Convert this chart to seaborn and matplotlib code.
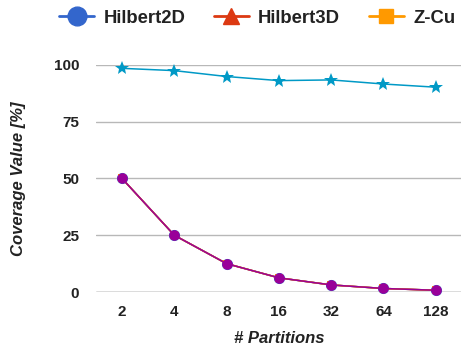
import matplotlib
matplotlib.use("Agg")
import matplotlib.pyplot as plt
from matplotlib.lines import Line2D
import seaborn as sns
import pandas as pd

partitions = ["2", "4", "8", "16", "32", "64", "128"]
hilbert2d = [50, 25, 12.5, 6.25, 3.125, 1.5625, 0.78125]
hilbert3d = [50, 25, 12.5, 6.25, 3.125, 1.5625, 0.78125]
z_curve = [50, 25, 12.5, 6.25, 3.125, 1.5625, 0.78125]
purple_series = [50, 25, 12.5, 6.25, 3.125, 1.5625, 0.78125]
star_series = [98.5, 97.5, 94.9, 93.1, 93.4, 91.6, 90.2]
legend_names = ["Hilbert2D", "Hilbert3D", "Z-Cu"]

sns.set_theme(style="white")
plt.rcParams["font.family"] = ["Liberation Sans", "DejaVu Sans"]

fig = plt.figure(figsize=(4.61, 3.51), dpi=100)
ax = fig.add_axes([0.208, 0.168, 0.794, 0.647])

series = [
    (hilbert2d, "#3366cc", "o", 8.0),
    (hilbert3d, "#dc3912", "^", 5.5),
    (z_curve, "#ff9900", "s", 5.5),
    (purple_series, "#990099", "o", 7.6),
    (star_series, "#0099c6", "*", 10.5),
]
for values, color, marker, ms in series:
    df = pd.DataFrame({"partitions": partitions, "value": values})
    sns.lineplot(data=df, x="partitions", y="value", ax=ax, sort=False,
                 color=color, marker=marker, markersize=ms,
                 markeredgewidth=0, linewidth=1.1, clip_on=False)

ax.set_xlim(-0.5, 6.5)
ax.set_ylim(0, 100)
ax.set_yticks([0, 25, 50, 75, 100])
ax.grid(axis="y", color="#b8b8b8", linewidth=1)
ax.set_axisbelow(True)
for side in ["top", "right", "left", "bottom"]:
    ax.spines[side].set_visible(False)
ax.axhline(0, color="#888888", linewidth=1, zorder=1)

ax.tick_params(axis="both", length=0, labelsize=11, colors="#222222")
ax.tick_params(axis="y", pad=12)
ax.tick_params(axis="x", pad=9)
for lbl in ax.get_xticklabels() + ax.get_yticklabels():
    lbl.set_fontweight("bold")

ax.set_xlabel("# Partitions", fontsize=12, fontweight="bold",
              fontstyle="italic", color="#222222", labelpad=9)
ax.set_ylabel("Coverage Value [%]", fontsize=12, fontweight="bold",
              fontstyle="italic", color="#222222", labelpad=20)

handles = [
    Line2D([], [], color="#3366cc", marker="o", markersize=13.5, linewidth=2),
    Line2D([], [], color="#dc3912", marker="^", markersize=11, linewidth=2),
    Line2D([], [], color="#ff9900", marker="s", markersize=9.5, linewidth=2),
]
fig.legend(handles, legend_names, loc="center left",
           bbox_to_anchor=(0.128, 0.948), ncol=3, frameon=False,
           handlelength=1.9, handletextpad=0.5, columnspacing=1.55,
           borderaxespad=0, borderpad=0,
           prop={"weight": "bold", "size": 13.3})
for t in fig.legends[0].get_texts():
    t.set_color("#222222")

fig.savefig("out.png", dpi=100)
